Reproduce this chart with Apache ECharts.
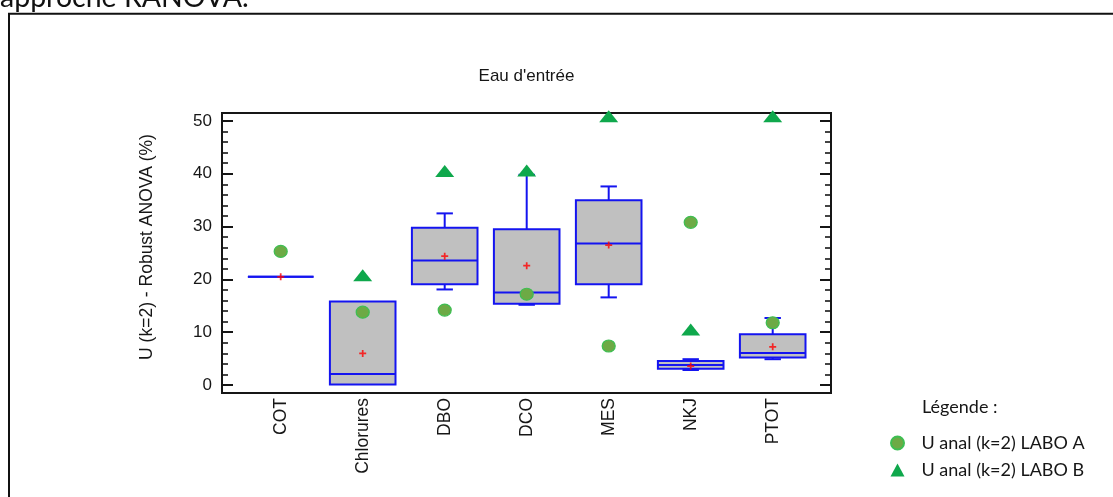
<!DOCTYPE html>
<html><head><meta charset="utf-8">
<script src="https://cdn.jsdelivr.net/npm/echarts@6/dist/echarts.min.js"></script>
<style>html,body{margin:0;padding:0;background:#fff}#c{width:1113px;height:497px}</style>
</head><body><div id="c"></div>
<script>
const categories = ['COT', 'Chlorures', 'DBO', 'DCO', 'MES', 'NKJ', 'PTOT'];
const boxMin    = [20.5, 0.1, 18.1, 15.2, 16.6, 2.85, 4.9];
const boxQ1     = [20.5, 0.1, 19.1, 15.4, 19.1, 3.1, 5.2];
const boxMedian = [20.5, 2.1, 23.6, 17.5, 26.8, 3.8, 6.05];
const boxQ3     = [20.5, 15.8, 29.8, 29.5, 35.0, 4.55, 9.6];
const boxMax    = [20.5, 15.8, 32.5, 39.8, 37.6, 4.9, 12.7];
const means     = [20.5, 6.0, 24.4, 22.6, 26.5, 3.6, 7.25];
const labA      = [25.3, 13.8, 14.2, 17.2, 7.4, 30.8, 11.8];
const labB      = [null, 20.8, 40.5, 40.6, 50.9, 10.5, 50.9];
const yMajorTicks = [0, 10, 20, 30, 40, 50];
const yMinorTicks = [0, 2, 4, 6, 8, 10, 12, 14, 16, 18, 20, 22, 24, 26, 28, 30, 32, 34, 36, 38, 40, 42, 44, 46, 48, 50];
const nameA = 'U anal (k=2) LABO A';
const nameB = 'U anal (k=2) LABO B';

const FONT = 'Liberation Sans, Arial, sans-serif';
const LFONT = 'Lato, Carlito, Calibri, sans-serif';
const BLUE = '#1414F0';
const GRAY = '#C0C0C0';
const INK = '#161616';
const Y_MIN = -1.5, Y_MAX = 51.5;

const chart = echarts.init(document.getElementById('c'), null, {renderer: 'canvas'});

function renderBox(params, api) {
  const x = api.value(0);
  const mn = api.coord([x, api.value(1)]);
  const q1 = api.coord([x, api.value(2)]);
  const md = api.coord([x, api.value(3)]);
  const q3 = api.coord([x, api.value(4)]);
  const mx = api.coord([x, api.value(5)]);
  const sz = api.size([1, 0]);
  const band = (sz && sz[0]) ? sz[0] : 82;
  const hw = band * 0.4;
  const cw = band * 0.1;
  const cx = md[0];
  const st = {stroke: BLUE, lineWidth: 2, fill: null};
  const children = [];
  if (mx[1] < q3[1] - 0.5) {
    children.push({type: 'line', shape: {x1: cx, y1: q3[1], x2: cx, y2: mx[1]}, style: st});
    children.push({type: 'line', shape: {x1: cx - cw, y1: mx[1], x2: cx + cw, y2: mx[1]}, style: st});
  }
  if (mn[1] > q1[1] + 0.5) {
    children.push({type: 'line', shape: {x1: cx, y1: q1[1], x2: cx, y2: mn[1]}, style: st});
    children.push({type: 'line', shape: {x1: cx - cw, y1: mn[1], x2: cx + cw, y2: mn[1]}, style: st});
  }
  children.push({type: 'rect', shape: {x: cx - hw, y: q3[1], width: 2 * hw, height: q1[1] - q3[1]},
    style: {fill: GRAY, stroke: BLUE, lineWidth: 2}});
  children.push({type: 'line', shape: {x1: cx - hw, y1: md[1], x2: cx + hw, y2: md[1]}, style: st});
  return {type: 'group', children: children};
}

const option = {
  animation: false,
  backgroundColor: '#fff',
  grid: [
    {left: 222, top: 113, width: 609, height: 280, show: true, borderColor: INK, borderWidth: 2, backgroundColor: 'transparent'},
    {left: 239.7, top: 113, width: 574, height: 280, show: false}
  ],
  xAxis: [
    {type: 'value', gridIndex: 0, min: 0, max: 1, show: false},
    {type: 'category', gridIndex: 1, data: categories, boundaryGap: true,
      axisLine: {show: false}, axisTick: {show: false}, splitLine: {show: false},
      axisLabel: {rotate: 90, interval: 0, margin: 5, fontSize: 17.5, fontFamily: FONT, color: INK}}
  ],
  yAxis: [
    {type: 'value', gridIndex: 0, min: Y_MIN, max: Y_MAX, position: 'left',
      axisLine: {show: false}, splitLine: {show: false},
      axisTick: {show: true, inside: true, length: 11, customValues: yMajorTicks, lineStyle: {color: INK, width: 2}},
      axisLabel: {show: true, customValues: yMajorTicks, margin: 10, fontSize: 17, fontFamily: FONT, color: INK}},
    {type: 'value', gridIndex: 0, min: Y_MIN, max: Y_MAX, position: 'left',
      axisLine: {show: false}, splitLine: {show: false}, axisLabel: {show: false},
      axisTick: {show: true, inside: true, length: 6, customValues: yMinorTicks, lineStyle: {color: INK, width: 1.6}}},
    {type: 'value', gridIndex: 0, min: Y_MIN, max: Y_MAX, position: 'right',
      axisLine: {show: false}, splitLine: {show: false}, axisLabel: {show: false},
      axisTick: {show: true, inside: true, length: 11, customValues: yMajorTicks, lineStyle: {color: INK, width: 2}}},
    {type: 'value', gridIndex: 0, min: Y_MIN, max: Y_MAX, position: 'right',
      axisLine: {show: false}, splitLine: {show: false}, axisLabel: {show: false},
      axisTick: {show: true, inside: true, length: 6, customValues: yMinorTicks, lineStyle: {color: INK, width: 1.6}}},
    {type: 'value', gridIndex: 1, min: Y_MIN, max: Y_MAX, show: false}
  ],
  legend: {
    orient: 'vertical', left: 885, top: 429, itemWidth: 14, itemHeight: 13, itemGap: 9,
    selectedMode: false,
    textStyle: {fontFamily: LFONT, fontSize: 18, color: INK, padding: [0, 0, 0, 12]},
    data: [{name: nameA, icon: 'circle'}, {name: nameB, icon: 'triangle'}]
  },
  graphic: [
    {type: 'rect', silent: true, shape: {x: 9, y: 13.7, width: 1300, height: 700},
      style: {fill: null, stroke: '#111', lineWidth: 2}},
    {type: 'text', silent: true, x: 0, y: 12,
      style: {text: 'approche RANOVA.', font: '28.5px ' + LFONT, fill: '#111', textAlign: 'left', textVerticalAlign: 'bottom'}},
    {type: 'text', silent: true, x: 526.5, y: 76.5,
      style: {text: "Eau d'entrée", font: '17px ' + FONT, fill: INK, textAlign: 'center', textVerticalAlign: 'middle'}},
    {type: 'text', silent: true, x: 147, y: 247, rotation: Math.PI / 2,
      style: {text: 'U (k=2) - Robust ANOVA (%)', font: '17.5px ' + FONT, fill: INK, textAlign: 'center', textVerticalAlign: 'middle'}},
    {type: 'text', silent: true, x: 922, y: 407,
      style: {text: 'Légende :', font: '18px ' + LFONT, fill: INK, textAlign: 'left', textVerticalAlign: 'middle'}}
  ],
  series: [
    {type: 'custom', name: 'box', xAxisIndex: 1, yAxisIndex: 4, clip: false, silent: true, z: 2,
      renderItem: renderBox, encode: {x: 0, y: [1, 2, 3, 4, 5]},
      data: categories.map((c, i) => [i, boxMin[i], boxQ1[i], boxMedian[i], boxQ3[i], boxMax[i]])},
    {type: 'scatter', name: 'mean', xAxisIndex: 1, yAxisIndex: 4, clip: false, silent: true, z: 3,
      symbol: 'path://M3,0H5V3H8V5H5V8H3V5H0V3H3Z', symbolSize: 7,
      itemStyle: {color: '#FF0000'},
      data: means.map((v, i) => [i, v])},
    {type: 'scatter', name: nameA, xAxisIndex: 1, yAxisIndex: 4, clip: false, silent: true, z: 4,
      symbol: 'circle', symbolSize: [13, 12],
      itemStyle: {color: '#6DAA45', borderColor: '#3EBE52', borderWidth: 1.2, opacity: 1},
      data: labA.map((v, i) => [i, v])},
    {type: 'scatter', name: nameB, xAxisIndex: 1, yAxisIndex: 4, clip: false, silent: true, z: 5,
      symbol: 'triangle', symbolSize: [19, 12],
      itemStyle: {color: '#0FA84C', opacity: 1},
      data: labB.map((v, i) => v == null ? null : [i, v]).filter(d => d)}
  ]
};
chart.setOption(option);
</script>
</body></html>
